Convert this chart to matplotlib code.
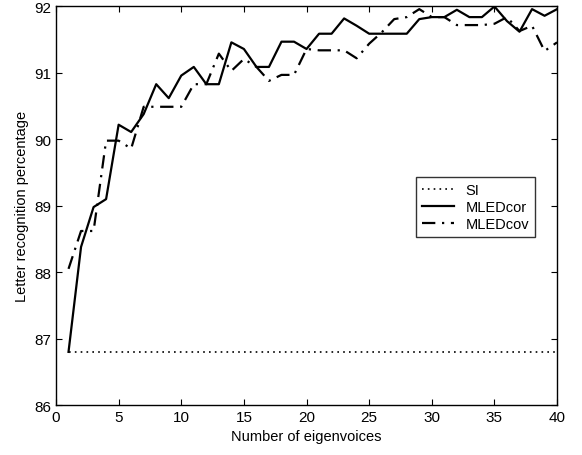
import matplotlib
matplotlib.use("Agg")
import matplotlib.pyplot as plt
import numpy as np

plt.rcParams['font.family'] = ['Liberation Sans', 'DejaVu Sans']

eigenvoices = list(range(1, 41))
si = [86.8] * 40
mled_cor = [86.8, 88.38, 88.98, 89.1, 90.22, 90.11, 90.38, 90.83, 90.62, 90.96,
            91.09, 90.83, 90.83, 91.46, 91.36, 91.09, 91.09, 91.47, 91.47, 91.36,
            91.59, 91.59, 91.82, 91.71, 91.59, 91.59, 91.59, 91.59, 91.81, 91.84,
            91.84, 91.95, 91.84, 91.84, 92.0, 91.78, 91.62, 91.96, 91.86, 91.96]
mled_cov = [88.05, 88.62, 88.62, 89.98, 89.98, 89.86, 90.49, 90.49, 90.49, 90.49,
            90.83, 90.83, 91.29, 91.03, 91.21, 91.09, 90.88, 90.97, 90.97, 91.36,
            91.34, 91.34, 91.34, 91.22, 91.44, 91.61, 91.81, 91.84, 91.96, 91.84,
            91.84, 91.72, 91.72, 91.72, 91.74, 91.84, 91.63, 91.71, 91.33, 91.46]

x_ticks = [0, 5, 10, 15, 20, 25, 30, 35, 40]
y_ticks = [86, 87, 88, 89, 90, 91, 92]

fig = plt.figure(figsize=(5.82, 4.56), dpi=100)
ax = fig.add_axes([0.0962, 0.1096, 0.861, 0.874])

ax.plot(eigenvoices, si, color='black', linestyle=(0, (1, 2.5)), lw=1.2, label='SI')
ax.plot(eigenvoices, mled_cor, color='black', linestyle='-', lw=1.6, label='MLEDcor')
ax.plot(eigenvoices, mled_cov, color='black', linestyle=(0, (6, 3, 1, 3)), lw=1.6, label='MLEDcov')

ax.set_xlim(0, 40)
ax.set_ylim(86, 92)
ax.set_xticks(x_ticks)
ax.set_yticks(y_ticks)
ax.tick_params(direction='in', top=True, right=True, labelsize=11, length=4)
for s in ax.spines.values():
    s.set_linewidth(1.0)

ax.set_xlabel('Number of eigenvoices', fontsize=10.5)
ax.set_ylabel('Letter recognition percentage', fontsize=10.5)

leg = ax.legend(loc='upper right', bbox_to_anchor=(0.97, 0.59), fontsize=10.5,
                frameon=True, fancybox=False, edgecolor='black', handlelength=2.2,
                borderpad=0.4, labelspacing=0.2)
leg.get_frame().set_linewidth(1.0)

fig.savefig('out.png', dpi=100)
